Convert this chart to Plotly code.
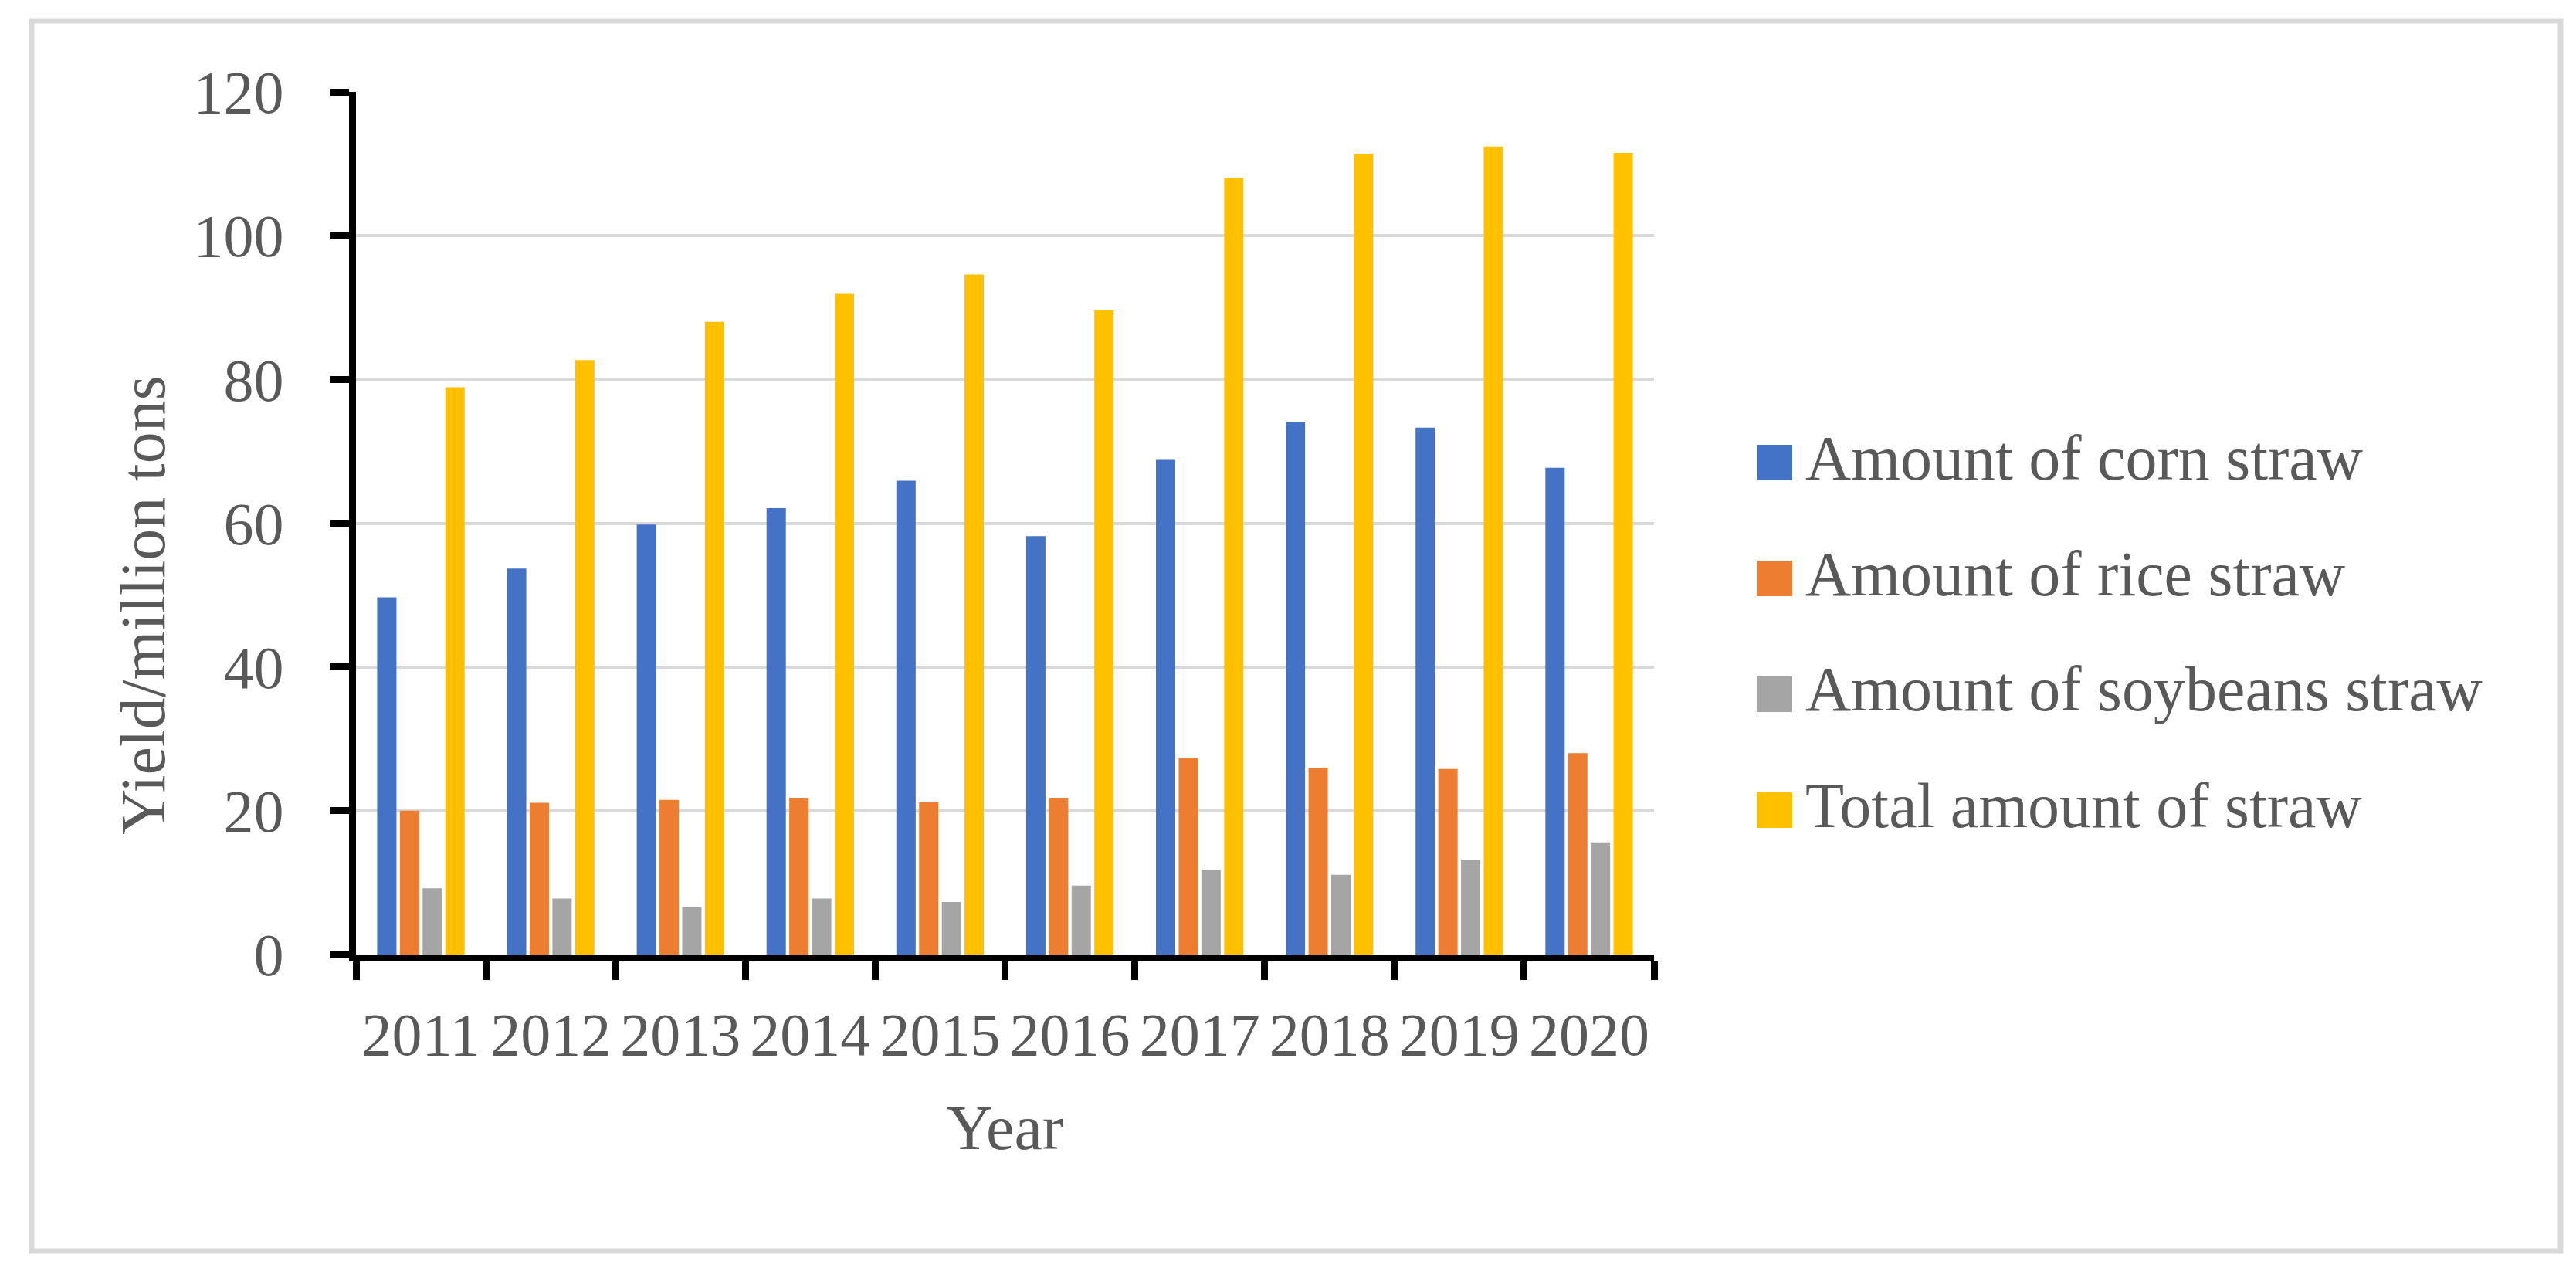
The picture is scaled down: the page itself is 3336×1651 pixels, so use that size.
import plotly.graph_objects as go

# data (million tons)
years = ["2011", "2012", "2013", "2014", "2015", "2016", "2017", "2018", "2019", "2020"]
corn = [49.7, 53.7, 59.8, 62.1, 65.9, 58.2, 68.8, 74.1, 73.3, 67.7]
rice = [20.0, 21.1, 21.5, 21.8, 21.2, 21.8, 27.3, 26.0, 25.8, 28.0]
soybeans = [9.2, 7.8, 6.6, 7.8, 7.3, 9.6, 11.7, 11.1, 13.2, 15.6]
total = [78.9, 82.7, 88.0, 91.9, 94.6, 89.6, 108.0, 111.4, 112.4, 111.5]

series_names = ["Amount of corn straw", "Amount of rice straw",
                "Amount of soybeans straw", "Total amount of straw"]
series_values = [corn, rice, soybeans, total]
colors = ["#4472C4", "#ED7D31", "#A5A5A5", "#FFC000"]

W, H = 3336, 1651
L, R, T, B = 453, 2134, 111, 1228   # plot area in pixels
FONT = "Palatino Linotype, Book Antiqua, Palatino, Liberation Serif, serif"
TXT = "#595959"
FS = 78      # tick labels
FS_T = 82    # titles and legend


def px_x(x):
    return (x - L) / (R - L)


def px_y(y):
    return (B - y) / (B - T)


fig = go.Figure()
for name, vals, col in zip(series_names, series_values, colors):
    fig.add_trace(go.Bar(x=years, y=vals, name=name, marker_color=col,
                         marker_line_width=0, showlegend=False))

fig.update_layout(
    width=W, height=H, autosize=False,
    margin=dict(l=L, r=W - R, t=T, b=H - B, pad=0),
    plot_bgcolor="white", paper_bgcolor="white",
    barmode="group", bargap=0.30, bargroupgap=0.15,
    font=dict(family=FONT, size=FS, color=TXT),
)
fig.update_xaxes(type="category", showline=True, linecolor="black", linewidth=9,
                 ticks="outside", tickson="boundaries", ticklen=24, tickwidth=9,
                 tickcolor="black", showgrid=False, ticklabelstandoff=27,
                 tickangle=0,
                 tickfont=dict(family=FONT, size=FS, color=TXT))
fig.update_yaxes(range=[0, 120], dtick=20, showline=True, linecolor="black",
                 linewidth=9, ticks="outside", ticklen=24, tickwidth=9,
                 tickcolor="black", gridcolor="#D9D9D9", gridwidth=4,
                 zeroline=False, ticklabelstandoff=45,
                 tickfont=dict(family=FONT, size=FS, color=TXT))

# axis titles
fig.add_annotation(text="Year", xref="paper", yref="paper", x=0.5, y=px_y(1452),
                   xanchor="center", yanchor="middle", showarrow=False,
                   font=dict(family=FONT, size=FS_T, color=TXT))
fig.add_annotation(text="Yield/million tons", xref="paper", yref="paper",
                   x=px_x(178), y=px_y(776), textangle=-90,
                   xanchor="center", yanchor="middle", showarrow=False,
                   font=dict(family=FONT, size=FS_T, color=TXT))

# legend drawn at the right, one row per series
for i, (name, col) in enumerate(zip(series_names, colors)):
    top = 568 + 150 * i
    fig.add_shape(type="rect", xref="paper", yref="paper",
                  x0=px_x(2267), x1=px_x(2313), y0=px_y(top), y1=px_y(top + 46),
                  fillcolor=col, line_width=0)
    fig.add_annotation(text=name, xref="paper", yref="paper",
                       x=px_x(2328), y=px_y(top + 17), xanchor="left",
                       yanchor="middle", showarrow=False,
                       font=dict(family=FONT, size=FS_T, color=TXT))

# outer frame
fig.add_shape(type="rect", xref="paper", yref="paper",
              x0=px_x(33), x1=px_x(3308), y0=px_y(19), y1=px_y(1612),
              line=dict(color="#D9D9D9", width=7), fillcolor="rgba(0,0,0,0)",
              layer="below")

fig.write_html("out.html")
